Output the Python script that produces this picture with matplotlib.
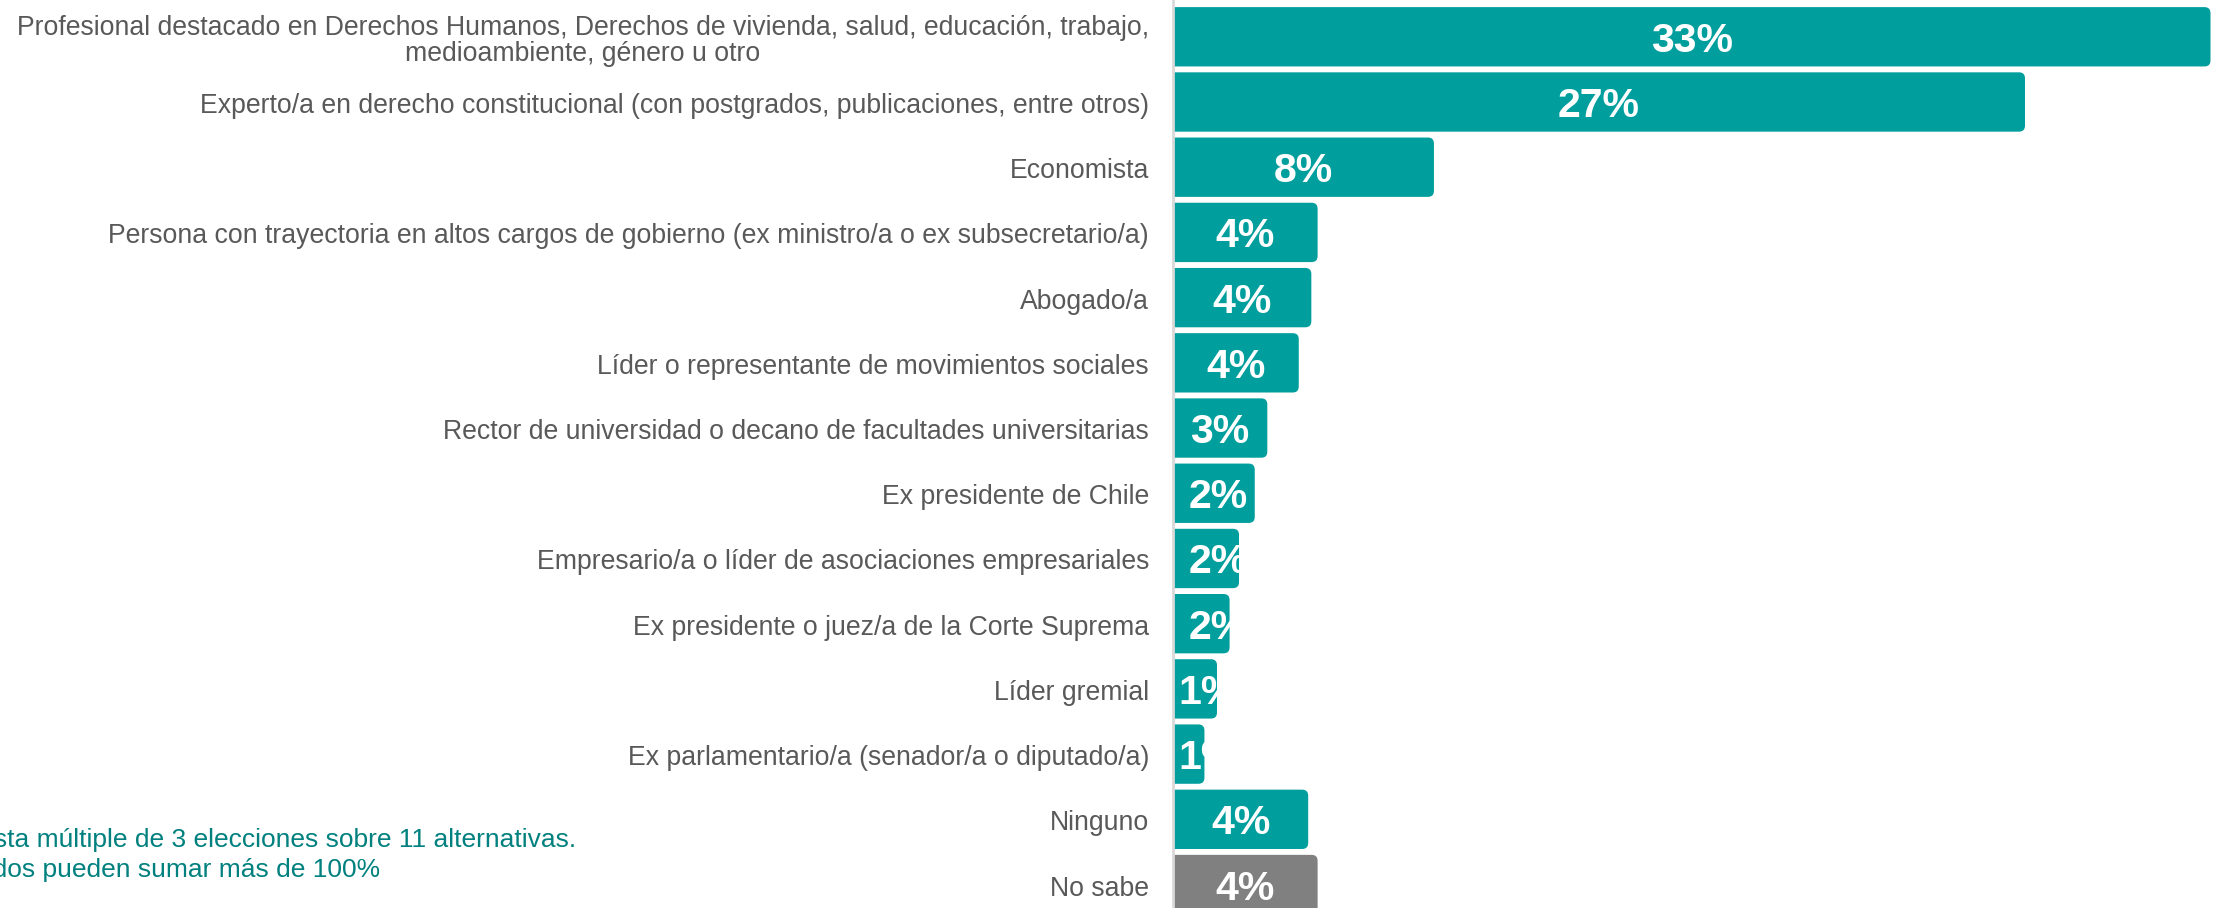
import matplotlib.pyplot as plt
from matplotlib.patches import FancyBboxPatch
from matplotlib.transforms import offset_copy

plt.rcParams['font.family'] = ['Liberation Sans', 'DejaVu Sans']

# Datos
categories = [
    "Profesional destacado en Derechos Humanos, Derechos de vivienda, salud, educación, trabajo,\nmedioambiente, género u otro",
    "Experto/a en derecho constitucional (con postgrados, publicaciones, entre otros)",
    "Economista",
    "Persona con trayectoria en altos cargos de gobierno (ex ministro/a o ex subsecretario/a)",
    "Abogado/a",
    "Líder o representante de movimientos sociales",
    "Rector de universidad o decano de facultades universitarias",
    "Ex presidente de Chile",
    "Empresario/a o líder de asociaciones empresariales",
    "Ex presidente o juez/a de la Corte Suprema",
    "Líder gremial",
    "Ex parlamentario/a (senador/a o diputado/a)",
    "Ninguno",
    "No sabe",
]
values = [33.0, 27.1, 8.3, 4.6, 4.4, 4.0, 3.0, 2.6, 2.1, 1.8, 1.4, 1.0, 4.3, 4.6]
pct_labels = ["33%", "27%", "8%", "4%", "4%", "4%", "3%", "2%", "2%", "2%", "1%", "1%", "4%", "4%"]
colors = ["#009E9C"] * 13 + ["#808080"]

nota = "Respuesta múltiple de 3 elecciones sobre 11 alternativas.\nResultados pueden sumar más de 100%"

W, H = 2219, 908
fig = plt.figure(figsize=(W / 100, H / 100), dpi=100)
ax = fig.add_axes([1173 / W, 0, 1 - 1173 / W, 1])

y = list(range(len(categories)))
bars = ax.barh(y, values, height=0.91, color=colors)

xmax = 33 * 1046 / 1037.5
ax.set_xlim(0, xmax)
ax.set_ylim(13.36, -0.564)
ax.set_xticks([])
ax.set_yticks([])
for s in ["top", "right", "bottom"]:
    ax.spines[s].set_visible(False)
ax.spines["left"].set_color("#d9d9d9")
ax.spines["left"].set_linewidth(2)
ax.spines["left"].set_zorder(5)

# barras con esquinas redondeadas (las de la izquierda quedan fuera del eje)
px_x = xmax / (W - 1173)
px_y = (13.36 + 0.564) / H
r = 6 * px_x
shapes = []
for bar in bars:
    bar.set_visible(False)
    x0, y0 = bar.get_x(), bar.get_y()
    w, h = bar.get_width(), bar.get_height()
    p = FancyBboxPatch((x0 - r, y0), w + r, h,
                       boxstyle=f"round,pad=0,rounding_size={r}",
                       mutation_aspect=px_y / px_x,
                       facecolor=bar.get_facecolor(), edgecolor="none")
    ax.add_patch(p)
    shapes.append(p)

# Etiquetas de categoría
trans = offset_copy(ax.get_yaxis_transform(), fig=fig, x=-24, y=-4, units="dots")
for i, cat in enumerate(categories):
    ax.text(0, i, cat, transform=trans, ha="right", va="center",
            multialignment="center", linespacing=1.0,
            fontsize=19.2, color="#595959", clip_on=False)

# Porcentajes dentro de las barras (recortados a la barra)
trans_pct = offset_copy(ax.transData, fig=fig, x=0, y=-4, units="dots")
for i, (p, v, lab) in enumerate(zip(shapes, values, pct_labels)):
    xt = max(v / 2, 1.43) if v >= 1.5 else 1.1
    t = ax.text(xt, i, lab, transform=trans_pct, ha="center", va="center",
                fontsize=29.5, fontweight="bold", color="white")
    t.set_clip_path(p)

fig.text(576 / W, 1 - 855 / H, nota, ha="right", va="center",
         multialignment="left", fontsize=19, color="#00807E", linespacing=1.3)

fig.savefig("out.png", dpi=100)
